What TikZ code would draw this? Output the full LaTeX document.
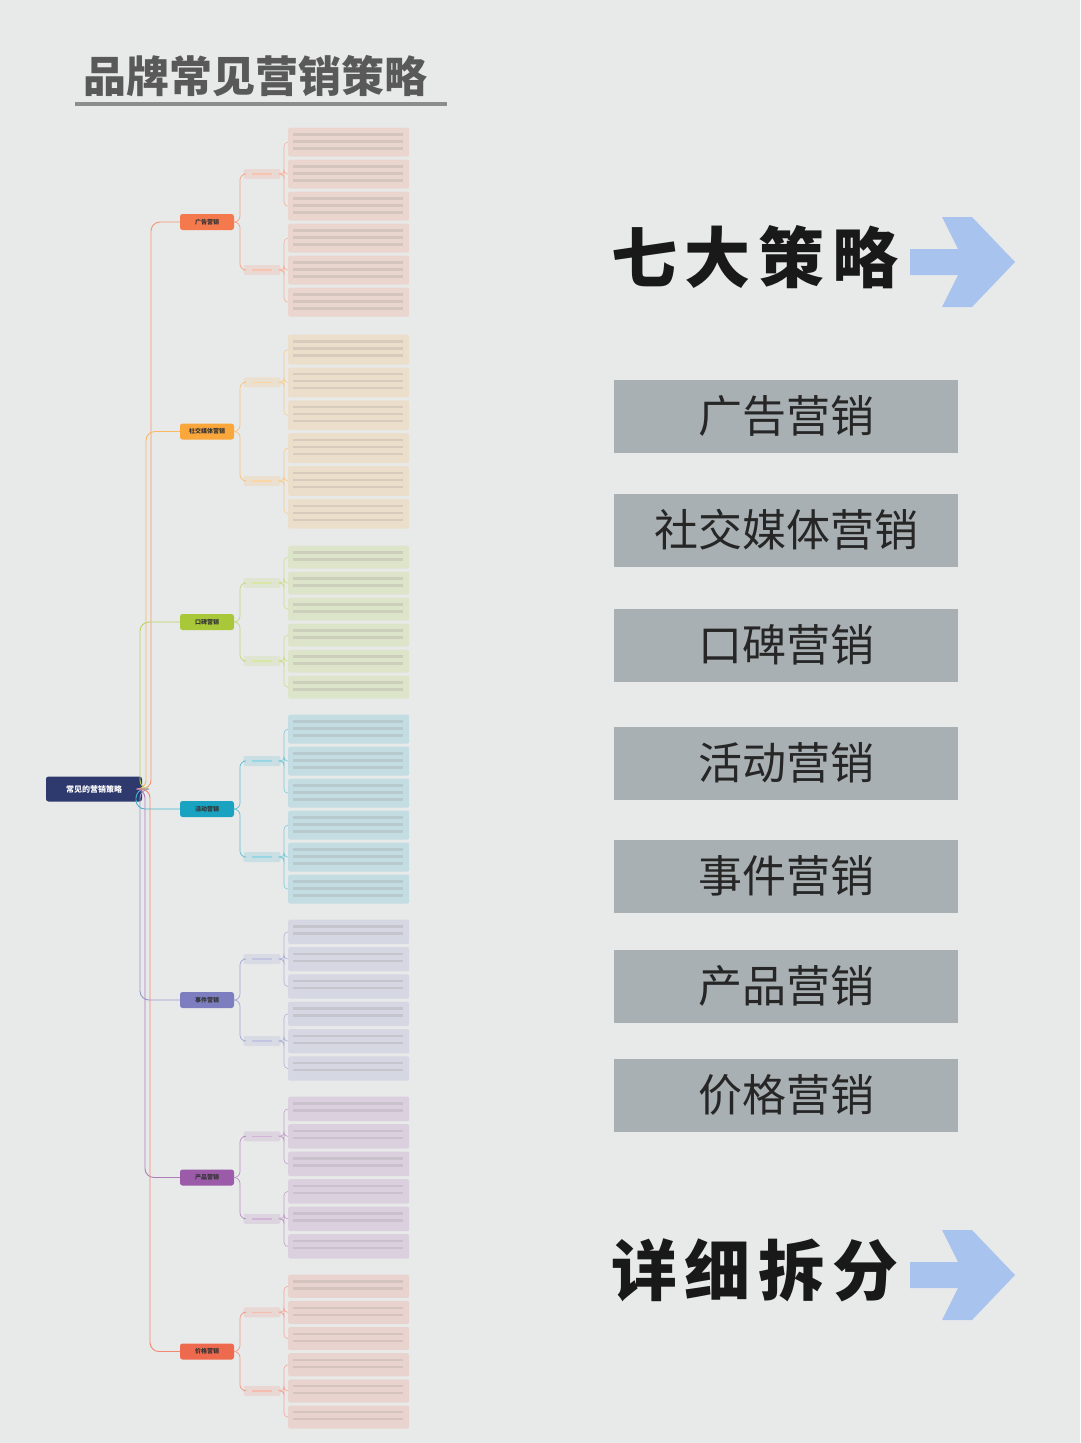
\documentclass[tikz,border=0pt]{standalone}
\usepackage{fontspec}
\setmainfont{Noto Sans CJK SC}
\definecolor{bg}{HTML}{E8EAEA}
\definecolor{boxg}{HTML}{A9B0B3}
\definecolor{arr}{HTML}{A8C3EE}
\definecolor{rootc}{HTML}{2E3A6E}
\definecolor{cA}{HTML}{F47A4E}
\definecolor{cB}{HTML}{F9A63A}
\definecolor{cC}{HTML}{A8C83A}
\definecolor{cD}{HTML}{1AA3C0}
\definecolor{cE}{HTML}{7C7EC0}
\definecolor{cF}{HTML}{9B5BA8}
\definecolor{cG}{HTML}{EE6A4F}
\tikzset{
  gbox/.style={fill=boxg,minimum width=344pt,minimum height=73pt,inner sep=0pt,font=\fontsize{44}{46}\selectfont,text=black!85},
  bnode/.style={rounded corners=2.5pt,minimum width=54pt,minimum height=16pt,inner sep=0pt,font=\bfseries\fontsize{6}{7}\selectfont},
  snode/.style={rounded corners=2pt,minimum width=37pt,minimum height=10pt,inner sep=0pt},
  leafn/.style={rounded corners=2pt,minimum width=121pt,inner sep=0pt,anchor=north west},
  bigt/.style={font=\bfseries\fontsize{66}{70}\selectfont\addfontfeature{LetterSpace=12},text=black!90},
}
\begin{document}
\begin{tikzpicture}[x=1pt,y=-1pt]
\fill[bg] (0,0) rectangle (1080,1443);
\useasboundingbox (0,0) rectangle (1080,1443);
\node[anchor=west,font=\bfseries\fontsize{43}{45}\selectfont,text=black!65] (title) at (80,76) {品牌常见营销策略};
\draw[line width=4pt,black!45] (75,104) -- (447,104);
\node[bigt] (t1) at (755,257) {七大策略};
\node[bigt] (t2) at (755,1270) {详细拆分};
\foreach \yy in {262,1275}{
  \fill[arr] (910,\yy-13) -- (958,\yy-13) -- (942,\yy-45) -- (972,\yy-45) -- (1015,\yy) -- (972,\yy+45) -- (942,\yy+45) -- (958,\yy+13) -- (910,\yy+13) -- cycle;
}
\foreach \yy/\tx [count=\n] in {416/广告营销,530/社交媒体营销,645/口碑营销,763/活动营销,876/事件营销,986/产品营销,1095/价格营销}{
  \node[gbox] (g\n) at (786,\yy) {\tx};
}
\node[fill=rootc,rounded corners=2.5pt,minimum width=96pt,minimum height=25pt,inner sep=0pt,text=white,font=\bfseries\fontsize{8}{9}\selectfont] (root) at (94,789) {常见的营销策略};
\foreach \i/\nm/\col/\t/\b/\vx in {1/广告营销/cA/126/318/163,2/社交媒体营销/cB/333/530/158,3/口碑营销/cC/544/700/152,4/活动营销/cD/713/905/148,5/事件营销/cE/918/1082/152,6/产品营销/cF/1095/1260/157,7/价格营销/cG/1273/1430/162}{
  \colorlet{bc}{\col}
  \pgfmathsetmacro\h{(\b-\t)/6}
  \pgfmathsetmacro\by{(\t+\b)/2}
  \pgfmathtruncatemacro\nl{max(1,floor((\h-8)/7))}
  \node[bnode,fill=bc,text=black!80] (b\i) at (207,\by) {\nm};
  \draw[bc!80,line width=0.9pt,rounded corners=9pt] (root.east) -- (\vx-12,789) |- (b\i.west);
  \foreach \s in {1,2}{
    \pgfmathsetmacro\sy{\t+(3*\s-1.5)*\h}
    \node[snode,fill=bc!15!bg] (s\i\s) at (262,\sy) {};
    \draw[bc!45,line width=1.5pt] (252,\sy) -- (272,\sy);
    \draw[bc!70,line width=0.7pt,rounded corners=6pt] (b\i.east) -- (240,\by) |- (s\i\s.west);
    \foreach \k in {1,2,3}{
      \pgfmathsetmacro\lt{\t+(3*\s+\k-4)*\h+1.5}
      \pgfmathsetmacro\lh{\h-3}
      \node[leafn,fill=bc!18!bg,minimum height=\lh pt] (l\i\s\k) at (288,\lt) {};
      \foreach \q in {1,...,\nl}{
        \draw[bc!30!gray!45,line width=2.2pt] (293,\lt+\q*7) -- (403,\lt+\q*7);
      }
      \draw[bc!60,line width=0.6pt,rounded corners=4pt] (s\i\s.east) -- (284,\sy) |- (l\i\s\k.west);
    }
  }
}
\end{tikzpicture}
\end{document}
